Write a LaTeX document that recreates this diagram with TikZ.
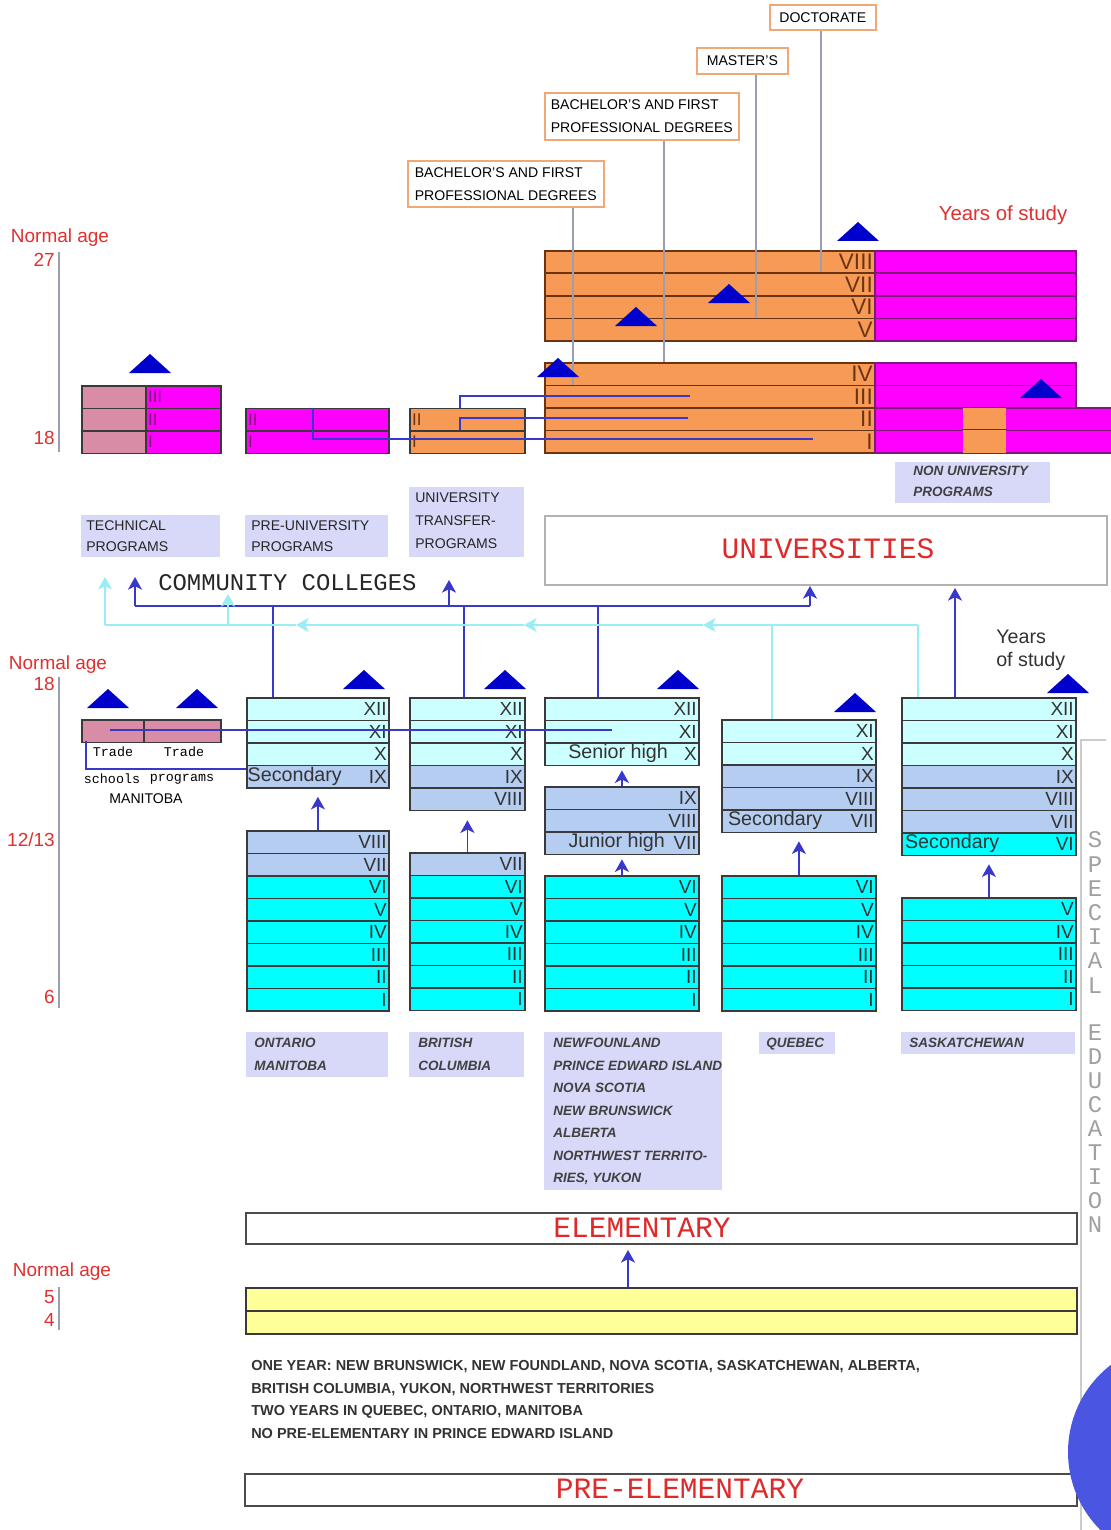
\documentclass[tikz,border=0pt]{standalone}
\usepackage{fontspec}
\setmainfont{Liberation Sans}
\setmonofont{Liberation Mono}
\usetikzlibrary{positioning}
\usetikzlibrary{arrows.meta}
\newlength\pu
\setlength\pu{0.025cm}
\definecolor{orangeyr}{HTML}{F79A55}
\definecolor{magyr}{HTML}{FF00FF}
\definecolor{pinkyr}{HTML}{D98CA5}
\definecolor{paleaqua}{HTML}{CCFFFF}
\definecolor{skyyr}{HTML}{B4CDF0}
\definecolor{aquayr}{HTML}{00FFFF}
\definecolor{yellowyr}{HTML}{FFFF99}
\definecolor{tagfill}{HTML}{D8D8F8}
\definecolor{triblue}{HTML}{0000CC}
\definecolor{linkblue}{HTML}{3838CC}
\definecolor{linkcyan}{HTML}{99EEF6}
\definecolor{agered}{HTML}{E03030}
\definecolor{headred}{HTML}{DD2A2A}
\definecolor{degborder}{HTML}{F0A878}
\definecolor{degray}{HTML}{9AA0B0}
\definecolor{cellline}{HTML}{3A3A3A}
\definecolor{brownline}{HTML}{6A3412}
\definecolor{purpline}{HTML}{7A1A7A}
\definecolor{specgray}{HTML}{A0A0A0}
\definecolor{dotblue}{HTML}{4A56E2}
\tikzset{
    gradecell/.style={
        draw=cellline, line width=1.3pt,
        anchor=north west, minimum height=22.5\pu, inner sep=0pt},
    unicell/.style={gradecell, draw=brownline, fill=orangeyr},
    magcell/.style={gradecell, draw=purpline, fill=magyr},
    rnum/.style={anchor=east, inner sep=2pt,
        font=\fontsize{13.5}{14}\selectfont, text=black!80},
    unum/.style={anchor=east, inner sep=2pt,
        font=\fontsize{16}{16}\selectfont, text=brownline},
    lnum/.style={anchor=west, inner sep=2pt,
        font=\fontsize{12}{12}\selectfont, text=purpline},
    stagetext/.style={anchor=west, inner sep=2pt,
        font=\fontsize{14}{14}\selectfont, text=black!80},
    tagbg/.style={fill=tagfill, anchor=north west, inner sep=0pt},
    tagtext/.style={anchor=north west, align=left, inner sep=0pt,
        font=\fontsize{10}{15.5}\selectfont, text=black!85},
    provtext/.style={tagtext,
        font=\fontsize{9.6}{16}\selectfont\bfseries\itshape, text=black!75},
    degree/.style={draw=degborder, line width=1.2pt, fill=white,
        anchor=north west, align=left, inner sep=0pt,
        font=\fontsize{10}{16.2}\selectfont},
    degline/.style={draw=degray, line width=1.2pt},
    stagebox/.style={draw=black!70, line width=1.4pt, fill=white,
        anchor=north west, inner sep=0pt},
    stagename/.style={inner sep=0pt,
        font=\ttfamily\fontsize{21}{21}\selectfont, text=headred},
    agetext/.style={text=agered, inner sep=0pt,
        font=\fontsize{13.5}{14}\selectfont},
    agebar/.style={draw=degray, line width=1pt},
    notetext/.style={anchor=base west, inner sep=0pt,
        font=\fontsize{10.3}{11}\selectfont\bfseries, text=black!80},
    tradetext/.style={inner sep=0pt,
        font=\ttfamily\fontsize{9.5}{10}\selectfont},
    bluelink/.style={draw=linkblue, line width=1.3pt},
    bluearrow/.style={bluelink,
        -{Stealth[length=9pt,width=10pt,inset=2.5pt]}},
    cyanlink/.style={draw=linkcyan, line width=1.3pt},
    cyanarrow/.style={cyanlink,
        -{Stealth[length=9pt,width=10pt,inset=2.5pt]}},
    spedu/.style={text=specgray, inner sep=0pt,
        font=\ttfamily\fontsize{17}{17}\selectfont},
    yeartri/.pic={\fill[triblue] (-21,0) -- (21,0) -- (0,-19) -- cycle;}}
\begin{document}
\begin{tikzpicture}[x=\pu, y=-\pu]
    \useasboundingbox[fill=white] (0,0) rectangle (1110,1530);

    % degrees
    \node[degree, minimum width=106\pu, minimum height=25\pu] (doct) at (769,4) {DOCTORATE};
    \node[degree, minimum width=91\pu, minimum height=26\pu] (mast) at (696,47) {MASTER'S};
    \node[degree, minimum width=194\pu, minimum height=47\pu] (bachB) at (544,92) {BACHELOR'S AND FIRST\\PROFESSIONAL DEGREES};
    \node[degree, minimum width=196\pu, minimum height=46\pu] (bachA) at (407,160) {BACHELOR'S AND FIRST\\PROFESSIONAL DEGREES};
    \node[agetext, font=\fontsize{14.5}{15}\selectfont] (yrsTop) at (1003,215) {Years of study};

    % universities
    \foreach \lab [count=\i from 0] in {VIII,VII,VI,V} {
        \node[unicell, minimum width=330\pu] (uhi\i) at (544,250+22.5*\i) {};
        \node[magcell, minimum width=201\pu] (mhi\i) at (874,250+22.5*\i) {};
        \node[unum] (nhi\i) at (uhi\i.east) {\lab};
    }
    \foreach \lab [count=\i from 0] in {IV,III} {
        \node[unicell, minimum width=330\pu] (ulo\i) at (544,362+22.5*\i) {};
        \node[magcell, minimum width=201\pu] (mlo\i) at (874,362+22.5*\i) {};
        \node[unum] (nlo\i) at (ulo\i.east) {\lab};
    }
    \foreach \lab [count=\i from 2] in {II,I} {
        \node[unicell, minimum width=330\pu] (ulo\i) at (544,362+22.5*\i) {};
        \node[magcell, minimum width=240\pu] (mlo\i) at (874,362+22.5*\i) {};
        \node[unicell, draw=none, minimum width=43\pu] (olo\i) at (962,362+22.5*\i) {};
        \node[unum] (nlo\i) at (ulo\i.east) {\lab};
    }
    \draw[draw=brownline, line width=1.3pt] (olo3.north west) -- (olo3.north east);

    % community colleges
    \foreach \lab [count=\i from 0] in {III,II,I} {
        \node[gradecell, fill=pinkyr, minimum width=64\pu] (techL\i) at (81,385+22.5*\i) {};
        \node[gradecell, fill=magyr, minimum width=75\pu] (techR\i) at (145,385+22.5*\i) {};
        \node[lnum] (techN\i) at (techR\i.west) {\lab};
    }
    \foreach \lab [count=\i from 0] in {II,I} {
        \node[gradecell, fill=magyr, minimum width=143\pu] (preu\i) at (245,407.5+22.5*\i) {};
        \node[lnum] (preuN\i) at (preu\i.west) {\lab};
        \node[gradecell, fill=orangeyr, minimum width=115\pu] (xfer\i) at (409,407.5+22.5*\i) {};
        \node[lnum, text=brownline] (xferN\i) at (xfer\i.west) {\lab};
    }

    % program tags
    \node[tagbg, minimum width=139\pu, minimum height=42\pu] (techTag) at (81,515) {};
    \node[tagtext] (techText) at (86,520) {TECHNICAL\\PROGRAMS};
    \node[tagbg, minimum width=143\pu, minimum height=42\pu] (preuTag) at (245,515) {};
    \node[tagtext] (preuText) at (251,520) {PRE-UNIVERSITY\\PROGRAMS};
    \node[tagbg, minimum width=115\pu, minimum height=70\pu] (xferTag) at (409,487) {};
    \node[tagtext, font=\fontsize{10}{16.4}\selectfont] (xferText) at (415,492) {UNIVERSITY\\TRANSFER-\\PROGRAMS};
    \node[tagbg, minimum width=155\pu, minimum height=41\pu] (nonuTag) at (895,462) {};
    \node[provtext, font=\fontsize{9.6}{15}\selectfont\bfseries\itshape] (nonuText) at (913,466) {NON UNIVERSITY\\PROGRAMS};

    \node[stagebox, draw=black!30, minimum width=562\pu, minimum height=69\pu] (univ) at (544,515) {};
    \node[stagename] (univName) at (828,549) {UNIVERSITIES};
    \node[anchor=west, inner sep=0pt, font=\ttfamily\fontsize{17}{17}\selectfont, text=black!85] (ccName) at (158,583) {COMMUNITY COLLEGES};

    % age scale
    \node[agetext] (ageA) at (60,238) {Normal age};
    \node[agetext, anchor=east] (ageA27) at (55,260) {27};
    \node[agetext, anchor=east] (ageA18) at (55,438) {18};
    \draw[agebar] (59,252) -- (59,452);
    \node[agetext] (ageB) at (58,665) {Normal age};
    \node[agetext, anchor=east] (ageB18) at (55,684) {18};
    \node[agetext, anchor=east] (ageB12) at (55,840) {12/13};
    \node[agetext, anchor=east] (ageB6) at (55,997) {6};
    \draw[agebar] (59,677) -- (59,1008);
    \node[agetext] (ageC) at (62,1272) {Normal age};
    \node[agetext, anchor=east] (ageC5) at (55,1297) {5};
    \node[agetext, anchor=east] (ageC4) at (55,1320) {4};
    \draw[agebar] (59,1287) -- (59,1330);

    \node[anchor=west, inner sep=0pt, font=\fontsize{14}{14}\selectfont, text=black!80] (yrsA) at (996,637) {Years};
    \node[anchor=west, inner sep=0pt, font=\fontsize{14}{14}\selectfont, text=black!80] (yrsB) at (996,661) {of study};

    % manitoba trades
    \node[gradecell, fill=pinkyr, minimum width=62\pu] (tradeS) at (81,719) {};
    \node[gradecell, fill=pinkyr, minimum width=77\pu] (tradeP) at (143,719) {};
    \node[tradetext] (tradeS1) at (113,752) {Trade};
    \node[tradetext] (tradeS2) at (112,779) {schools};
    \node[tradetext] (tradeP1) at (184,752) {Trade};
    \node[tradetext] (tradeP2) at (182,779) {programs};
    \node[inner sep=0pt] (mbName) at (146,799) {MANITOBA};

    % ontario, manitoba
    \foreach \lab/\col [count=\i from 0] in {XII/paleaqua,XI/paleaqua,X/paleaqua,IX/skyyr} {
        \node[gradecell, fill=\col, minimum width=142\pu] (ontS\i) at (246,697+22.5*\i) {};
        \node[rnum] (ontSn\i) at (ontS\i.east) {\lab};
    }
    \node[stagetext, inner sep=1pt] (ontSec) at (ontS3.west) {Secondary};
    \foreach \lab/\col [count=\i from 0] in {VIII/skyyr,VII/skyyr,VI/aquayr,V/aquayr,IV/aquayr,III/aquayr,II/aquayr,I/aquayr} {
        \node[gradecell, fill=\col, minimum width=142\pu] (ontE\i) at (246,830+22.5*\i) {};
        \node[rnum] (ontEn\i) at (ontE\i.east) {\lab};
    }
    % british columbia
    \foreach \lab/\col [count=\i from 0] in {XII/paleaqua,XI/paleaqua,X/paleaqua,IX/skyyr,VIII/skyyr} {
        \node[gradecell, fill=\col, minimum width=115\pu] (bcS\i) at (409,697+22.5*\i) {};
        \node[rnum] (bcSn\i) at (bcS\i.east) {\lab};
    }
    \foreach \lab/\col [count=\i from 0] in {VII/skyyr,VI/aquayr,V/aquayr,IV/aquayr,III/aquayr,II/aquayr,I/aquayr} {
        \node[gradecell, fill=\col, minimum width=115\pu] (bcE\i) at (409,852+22.5*\i) {};
        \node[rnum] (bcEn\i) at (bcE\i.east) {\lab};
    }
    % atlantic, alberta, territories
    \foreach \lab [count=\i from 0] in {XII,XI,X} {
        \node[gradecell, fill=paleaqua, minimum width=154\pu] (nflS\i) at (544,697+22.5*\i) {};
        \node[rnum] (nflSn\i) at (nflS\i.east) {\lab};
    }
    \node[stagetext, anchor=east] (nflSen) at (671,753) {Senior high};
    \foreach \lab [count=\i from 0] in {IX,VIII,VII} {
        \node[gradecell, fill=skyyr, minimum width=154\pu] (nflJ\i) at (544,786+22.5*\i) {};
        \node[rnum] (nflJn\i) at (nflJ\i.east) {\lab};
    }
    \node[stagetext, anchor=east] (nflJun) at (668,842) {Junior high};
    \foreach \lab [count=\i from 0] in {VI,V,IV,III,II,I} {
        \node[gradecell, fill=aquayr, minimum width=154\pu] (nflE\i) at (544,875+22.5*\i) {};
        \node[rnum] (nflEn\i) at (nflE\i.east) {\lab};
    }
    % quebec
    \foreach \lab/\col [count=\i from 0] in {XI/paleaqua,X/paleaqua,IX/skyyr,VIII/skyyr,VII/skyyr} {
        \node[gradecell, fill=\col, minimum width=154\pu] (queS\i) at (721,719+22.5*\i) {};
        \node[rnum] (queSn\i) at (queS\i.east) {\lab};
    }
    \node[stagetext] (queSec) at (725,820) {Secondary};
    \foreach \lab [count=\i from 0] in {VI,V,IV,III,II,I} {
        \node[gradecell, fill=aquayr, minimum width=154\pu] (queE\i) at (721,875+22.5*\i) {};
        \node[rnum] (queEn\i) at (queE\i.east) {\lab};
    }
    % saskatchewan
    \foreach \lab/\col [count=\i from 0] in {XII/paleaqua,XI/paleaqua,X/paleaqua,IX/skyyr,VIII/skyyr,VII/skyyr,VI/aquayr} {
        \node[gradecell, fill=\col, minimum width=174\pu] (sasS\i) at (901,697+22.5*\i) {};
        \node[rnum] (sasSn\i) at (sasS\i.east) {\lab};
    }
    \node[stagetext] (sasSec) at (902,843) {Secondary};
    \foreach \lab [count=\i from 0] in {V,IV,III,II,I} {
        \node[gradecell, fill=aquayr, minimum width=174\pu] (sasE\i) at (901,897+22.5*\i) {};
        \node[rnum] (sasEn\i) at (sasE\i.east) {\lab};
    }

    % province tags
    \node[tagbg, minimum width=142\pu, minimum height=45\pu] (ontTag) at (246,1032) {};
    \node[provtext] (ontText) at (254,1038) {ONTARIO\\MANITOBA};
    \node[tagbg, minimum width=115\pu, minimum height=45\pu] (bcTag) at (409,1032) {};
    \node[provtext] (bcText) at (418,1038) {BRITISH\\COLUMBIA};
    \node[tagbg, minimum width=178\pu, minimum height=158\pu] (nflTag) at (544,1032) {};
    \node[provtext] (nflText) at (553,1038) {NEWFOUNLAND\\PRINCE EDWARD ISLAND\\NOVA SCOTIA\\NEW BRUNSWICK\\ALBERTA\\NORTHWEST TERRITO-\\RIES, YUKON};
    \node[tagbg, minimum width=76\pu, minimum height=22\pu] (queTag) at (759,1032) {};
    \node[provtext] (queText) at (766,1038) {QUEBEC};
    \node[tagbg, minimum width=174\pu, minimum height=22\pu] (sasTag) at (901,1032) {};
    \node[provtext] (sasText) at (909,1038) {SASKATCHEWAN};

    % special education
    \draw[draw=black!20, line width=1pt] (1106,740) -- (1081,740) -- (1081,1530);
    \foreach \ch [count=\k from 0] in {S,P,E,C,I,A,L}
        \node[spedu] (spA\k) at (1095,840+24.2*\k) {\ch};
    \foreach \ch [count=\k from 0] in {E,D,U,C,A,T,I,O,N}
        \node[spedu] (spB\k) at (1095,1033+24*\k) {\ch};

    % elementary and pre-elementary
    \node[stagebox, minimum width=831\pu, minimum height=31\pu] (elem) at (245,1212) {};
    \node[stagename] (elemName) at (642,1228) {ELEMENTARY};
    \node[gradecell, fill=yellowyr, minimum width=831\pu, minimum height=23\pu] (preA) at (245,1287) {};
    \node[gradecell, fill=yellowyr, minimum width=831\pu, minimum height=23\pu] (preB) at (245,1310) {};
    \node[notetext] (noteA) at (251,1370) {ONE YEAR: NEW BRUNSWICK, NEW FOUNDLAND, NOVA SCOTIA, SASKATCHEWAN, ALBERTA,};
    \node[notetext] (noteB) at (251,1393) {BRITISH COLUMBIA, YUKON, NORTHWEST TERRITORIES};
    \node[notetext] (noteC) at (251,1415) {TWO YEARS IN QUEBEC, ONTARIO, MANITOBA};
    \node[notetext] (noteD) at (251,1438) {NO PRE-ELEMENTARY IN PRINCE EDWARD ISLAND};
    \node[stagebox, minimum width=832\pu, minimum height=32\pu] (preelem) at (244,1473) {};
    \node[stagename] (preelemName) at (680,1489) {PRE-ELEMENTARY};

    % degree lines
    \coordinate (doctEnd) at (821,272);
    \coordinate (mastEnd) at (756,317);
    \coordinate (bachBEnd) at (664,362);
    \coordinate (bachAEnd) at (573,385);
    \draw[degline] (doct.south -| doctEnd) -- (doctEnd);
    \draw[degline] (mast.south -| mastEnd) -- (mastEnd);
    \draw[degline] (bachB.south -| bachBEnd) -- (bachBEnd);
    \draw[degline] (bachA.south -| bachAEnd) -- (bachAEnd);

    % transfers into university
    \coordinate (xferA) at (460,407.5);
    \coordinate (toIII) at (690,396);
    \coordinate (xferB) at (460,430);
    \coordinate (toII) at (688,418);
    \coordinate (preuA) at (313,407.5);
    \coordinate (toI) at (813,439);
    \draw[bluelink] (xferA) |- (toIII);
    \draw[bluelink] (xferB) |- (toII);
    \draw[bluelink] (preuA) |- (toI);

    % secondary to colleges and universities
    \coordinate (busL) at (135,606);
    \coordinate (busR) at (810,606);
    \coordinate (ccArrL) at (135,577);
    \coordinate (ccArrM) at (449,580);
    \coordinate (univIn) at (810,586);
    \draw[bluelink] (busL) -- (busR);
    \draw[bluearrow] (busL) -- (ccArrL);
    \draw[bluearrow] (busL -| ccArrM) -- (ccArrM);
    \draw[bluearrow] (busR) -- (univIn);
    \coordinate (ontTop) at (273,697);
    \coordinate (bcTop) at (464,697);
    \coordinate (nflTop) at (598,697);
    \draw[bluelink] (ontTop) -- (ontTop |- busL);
    \draw[bluelink] (bcTop) -- (bcTop |- busL);
    \draw[bluelink] (nflTop) -- (nflTop |- busL);
    \coordinate (sasTop) at (955,697);
    \coordinate (sasUniv) at (955,588);
    \draw[bluearrow] (sasTop) -- (sasUniv);

    \coordinate (cyanL) at (105,625);
    \coordinate (cyanR) at (918,625);
    \coordinate (cyanArrL) at (105,577);
    \coordinate (cyanArrM) at (228,594);
    \coordinate (queTop) at (772,719);
    \coordinate (sasTopB) at (918,697);
    \draw[cyanlink] (sasTopB) -- (cyanR);
    \draw[cyanlink] (queTop) -- (queTop |- cyanR);
    \draw[cyanarrow] (cyanR) -- (703,625);
    \draw[cyanarrow] (703,625) -- (524,625);
    \draw[cyanarrow] (524,625) -- (296,625);
    \draw[cyanlink] (296,625) -- (cyanL);
    \draw[cyanarrow] (cyanL) -- (cyanArrL);
    \draw[cyanarrow] (cyanL -| cyanArrM) -- (cyanArrM);

    % trades links
    \coordinate (tradeIn) at (110,730);
    \coordinate (nflXI) at (612,730);
    \coordinate (tradeDrop) at (86,741);
    \coordinate (ontIX) at (246,769);
    \draw[bluelink] (tradeIn) -- (nflXI);
    \draw[bluelink] (tradeDrop) |- (ontIX);

    % between levels
    \draw[bluearrow, shorten >=8\pu] (ontE0.north) -- (ontS3.south);
    \draw[bluearrow, shorten >=9\pu] (bcE0.north) -- (bcS4.south);
    \draw[bluearrow, shorten >=4\pu] (nflJ0.north) -- (nflS2.south);
    \draw[bluearrow, shorten >=4\pu] (nflE0.north) -- (nflJ2.south);
    \draw[bluearrow, shorten >=8\pu] (queE0.north) -- (queS4.south);
    \draw[bluearrow, shorten >=8\pu] (sasE0.north) -- (sasS6.south);
    \coordinate (yelTop) at (628,1287);
    \coordinate (elemIn) at (628,1250);
    \draw[bluearrow] (yelTop) -- (elemIn);

    % years of study markers
    \foreach \tx/\ty in {858/241,636/326,729/303,558/377,1041/398,150/373,108/708,197/708,364/689,505/689,678/689,855/712,1068/693}
        \pic at (\tx,\ty) {yeartri};

    \fill[dotblue] (1178,1452) circle[radius=110\pu];
\end{tikzpicture}
\end{document}
